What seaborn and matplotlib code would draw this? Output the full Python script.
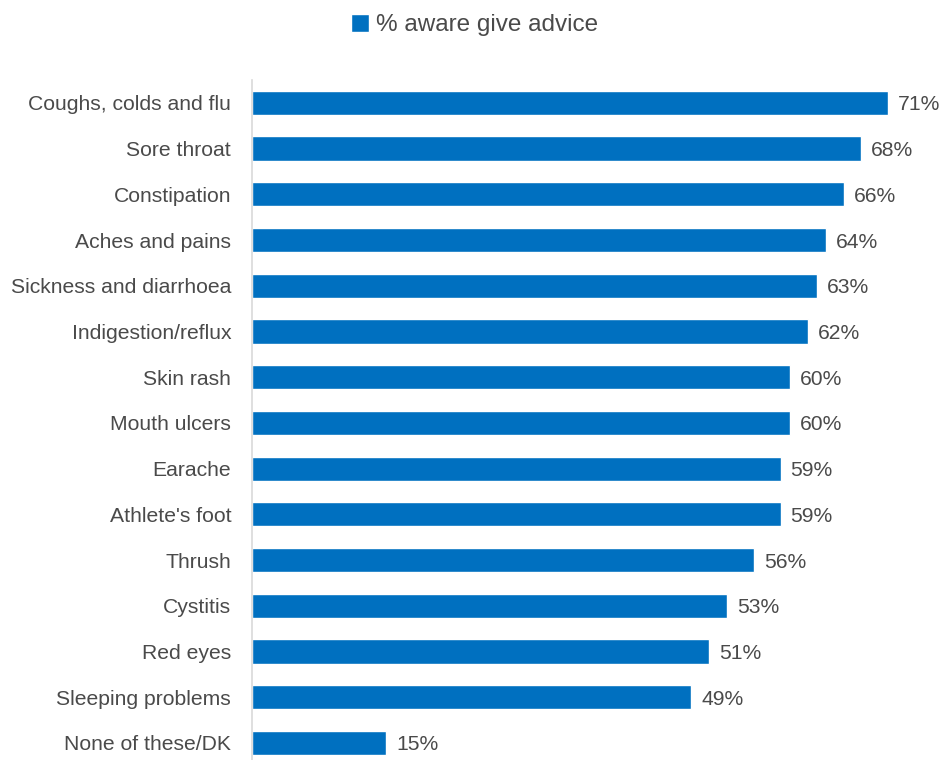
import matplotlib
matplotlib.use("Agg")
import matplotlib.pyplot as plt
import pandas as pd
import seaborn as sns

categories = ["Coughs, colds and flu", "Sore throat", "Constipation",
              "Aches and pains", "Sickness and diarrhoea",
              "Indigestion/reflux", "Skin rash", "Mouth ulcers", "Earache",
              "Athlete's foot", "Thrush", "Cystitis", "Red eyes",
              "Sleeping problems", "None of these/DK"]
values = [71, 68, 66, 64, 63, 62, 60, 60, 59, 59, 56, 53, 51, 49, 15]
series_name = "% aware give advice"

BLUE = "#0070C0"
GREY = "#4a4a4a"

sns.set_theme(style="white")
plt.rcParams["font.family"] = ["Liberation Sans", "DejaVu Sans"]

df = pd.DataFrame({"category": categories, "value": values})

fig = plt.figure(figsize=(9.43, 7.6), dpi=100)
ax = fig.add_axes([252 / 943, -0.0077, 1 - 252 / 943, 0.9024])

sns.barplot(data=df, x="value", y="category", color=BLUE, width=0.53,
            saturation=1, ax=ax, label=series_name)

ax.set_xlim(0, 77.1)
ax.set_ylim(14.5, -0.5)
ax.set_xlabel("")
ax.set_ylabel("")
ax.set_xticks([])
ax.tick_params(axis="y", length=0, pad=15, labelsize=15.2, labelcolor=GREY)
for lbl in ax.get_yticklabels():
    lbl.set_verticalalignment("center_baseline")
for side in ["top", "right", "bottom"]:
    ax.spines[side].set_visible(False)
ax.spines["left"].set_color("#d9d9d9")
ax.spines["left"].set_linewidth(1.2)

for i, v in enumerate(values):
    ax.text(v + 1.1, i, f"{v}%", va="center_baseline", ha="left",
            fontsize=15.2, color=GREY)

if ax.legend_:
    ax.legend_.remove()
handles, labels = ax.get_legend_handles_labels()
fig.legend(handles, labels, loc="center", bbox_to_anchor=(0.503, 0.967),
           frameon=False, fontsize=17.5, labelcolor=GREY,
           handlelength=0.75, handleheight=0.75, handletextpad=0.3)

fig.savefig("out.png", dpi=100)
